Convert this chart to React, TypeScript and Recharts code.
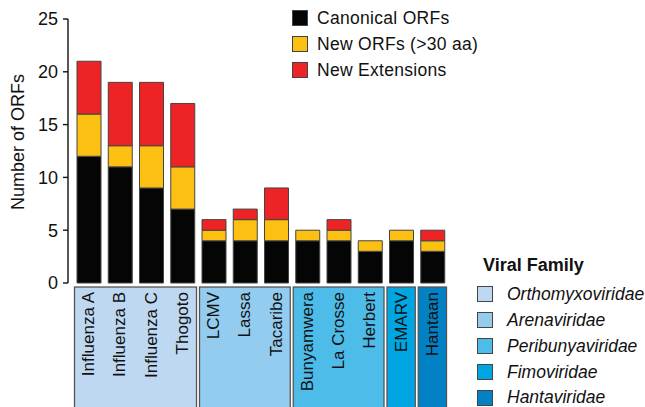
import React from "react";
import { BarChart, Bar, XAxis, YAxis, ReferenceArea, Label } from "recharts";

const viruses = [
  "Influenza A", "Influenza B", "Influenza C", "Thogoto",
  "LCMV", "Lassa", "Tacaribe",
  "Bunyamwera", "La Crosse", "Herbert",
  "EMARV", "Hantaan",
];
const canonical = [12, 11, 9, 7, 4, 4, 4, 4, 4, 3, 4, 3];
const newOrfs = [4, 2, 4, 4, 1, 2, 2, 1, 1, 1, 1, 1];
const newExt = [5, 6, 6, 6, 1, 1, 3, 0, 1, 0, 0, 1];

const yTicks = [0, 5, 10, 15, 20, 25];

const families = ["Orthomyxoviridae", "Arenaviridae", "Peribunyaviridae", "Fimoviridae", "Hantaviridae"];
const familyFirst = ["Influenza A", "LCMV", "Bunyamwera", "EMARV", "Hantaan"];
const familyLast = ["Thogoto", "Tacaribe", "Herbert", "EMARV", "Hantaan"];
const familyColors = ["#bdd8f0", "#93ccef", "#4ebce9", "#00a6e2", "#0381c5"];

const seriesNames = ["Canonical ORFs", "New ORFs (>30 aa)", "New Extensions"];
const seriesColors = ["#050505", "#fcc013", "#ee2326"];

const data = viruses.map((name, i) => ({
  name,
  canonical: canonical[i],
  newOrfs: newOrfs[i],
  newExt: newExt[i],
}));

const FONT = "'Liberation Sans', Arial, Helvetica, sans-serif";

const CategoryTick = (props: any) => {
  const { x, y, payload } = props;
  return (
    <text
      x={x}
      y={y + 9}
      transform={`rotate(-90, ${x}, ${y + 9})`}
      textAnchor="end"
      dominantBaseline="central"
      fontSize={17}
      fontFamily={FONT}
      fill="#111"
    >
      {payload.value}
    </text>
  );
};

const GroupBox = (props: any) => {
  const { x, y, width, height, fill } = props;
  return (
    <rect
      x={x + 1.5}
      y={y}
      width={width - 3}
      height={height}
      fill={fill}
      stroke="#555"
      strokeWidth={1.3}
    />
  );
};

const swatch = (color: string) => (
  <span
    style={{
      display: "inline-block",
      width: 14,
      height: 14,
      background: color,
      border: "1px solid #444",
      marginRight: 9,
      verticalAlign: "middle",
    }}
  />
);

export default function App() {
  return (
    <div style={{ position: "absolute", left: 0, top: 0, width: 645, height: 407, fontFamily: FONT, background: "#fff" }}>
      <BarChart
        width={645}
        height={407}
        data={data}
        margin={{ top: 19, right: 197, bottom: 0, left: 0 }}
        barSize={24}
      >
        {families.map((f, i) => (
          <ReferenceArea
            key={f}
            x1={familyFirst[i]}
            x2={familyLast[i]}
            y1={-0.38}
            y2={-14}
            ifOverflow="visible"
            fill={familyColors[i]}
            fillOpacity={1}
            shape={GroupBox}
          />
        ))}
        <XAxis
          dataKey="name"
          axisLine={false}
          tickLine={false}
          tickSize={0}
          tickMargin={0}
          height={124}
          interval={0}
          padding={{ left: 5, right: 0 }}
          tick={CategoryTick}
        />
        <YAxis
          width={68}
          domain={[0, 25]}
          ticks={yTicks}
          interval={0}
          axisLine={{ stroke: "#111", strokeWidth: 1.4 }}
          tickLine={{ stroke: "#111", strokeWidth: 1.4 }}
          tickSize={5}
          tickMargin={5}
          tick={{ fontSize: 18, fill: "#111", fontFamily: FONT }}
        >
          <Label
            value="Number of ORFs"
            angle={-90}
            position="center"
            dx={-16}
            dy={-9}
            style={{ fontSize: 18, fill: "#111", fontFamily: FONT, textAnchor: "middle" }}
          />
        </YAxis>
        <Bar dataKey="canonical" stackId="a" fill={seriesColors[0]} stroke="#444" strokeWidth={1} isAnimationActive={false} />
        <Bar dataKey="newOrfs" stackId="a" fill={seriesColors[1]} stroke="#444" strokeWidth={1} isAnimationActive={false} />
        <Bar dataKey="newExt" stackId="a" fill={seriesColors[2]} stroke="#444" strokeWidth={1} isAnimationActive={false} />
      </BarChart>

      <div style={{ position: "absolute", left: 292, top: 5, fontSize: 17.5, letterSpacing: 0.3, color: "#111", lineHeight: "25px" }}>
        {seriesNames.map((n, i) => (
          <div key={n} style={{ whiteSpace: "nowrap" }}>
            {swatch(seriesColors[i])}
            <span style={{ verticalAlign: "middle" }}>{n}</span>
          </div>
        ))}
      </div>

      <div style={{ position: "absolute", left: 477, top: 253, fontSize: 17.5, color: "#111", lineHeight: "25px" }}>
        <div style={{ fontWeight: "bold", fontSize: 18, marginLeft: 6, marginBottom: 3 }}>Viral Family</div>
        {families.map((f, i) => (
          <div key={f} style={{ whiteSpace: "nowrap" }}>
            {swatch(familyColors[i])}
            <span style={{ verticalAlign: "middle", fontStyle: "italic", marginLeft: 5 }}>{f}</span>
          </div>
        ))}
      </div>
    </div>
  );
}
